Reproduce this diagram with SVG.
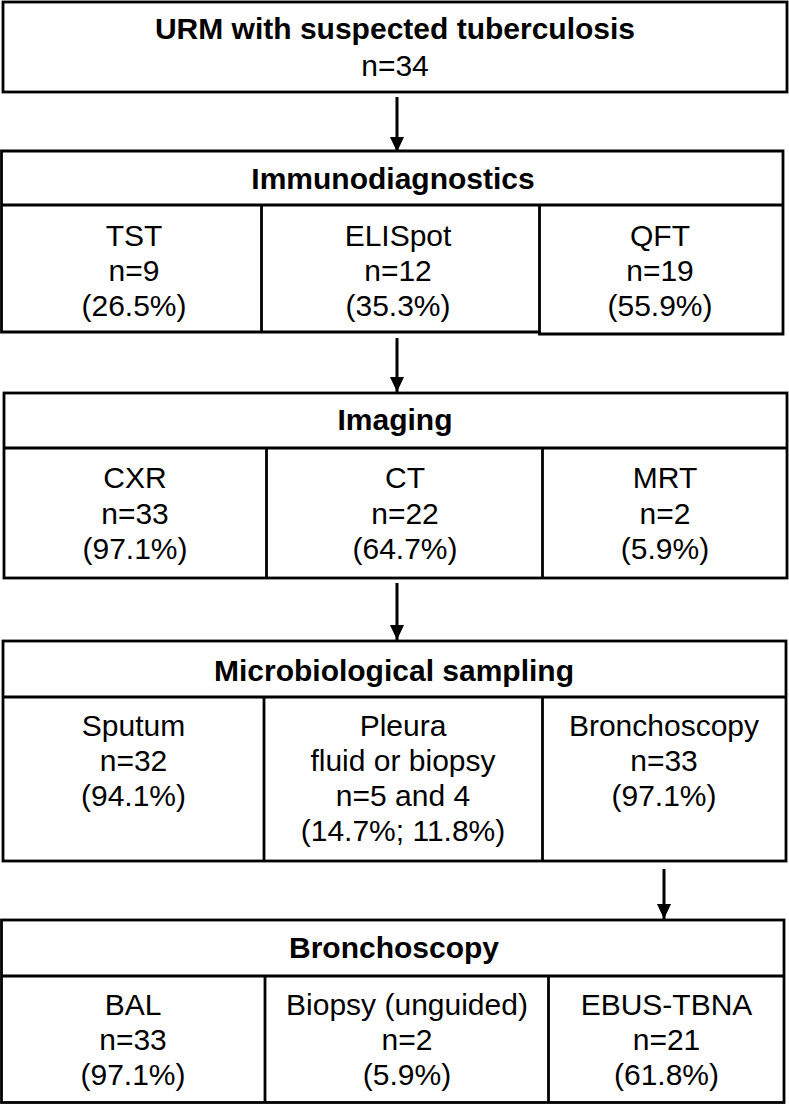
<svg xmlns="http://www.w3.org/2000/svg" width="789" height="1105" viewBox="0 0 789 1105">
<defs>
<marker id="ah" markerUnits="userSpaceOnUse" markerWidth="16" markerHeight="14" refX="15" refY="7" orient="auto">
<path d="M0,0 L15,7 L0,14 Z" fill="#000"/>
</marker>
</defs>
<style>
.box{fill:#fff;stroke:#000;stroke-width:2.8}
.ln{fill:none;stroke:#000;stroke-width:2.8}
.con{fill:none;stroke:#000;stroke-width:3;marker-end:url(#ah)}
text{font-family:"Liberation Sans",Arial,Helvetica,sans-serif;font-size:30px;fill:#000;text-anchor:middle}
.h{font-weight:bold}
</style>
<rect width="789" height="1105" fill="#fff"/>

<g id="connectors">
<line class="con" x1="397" y1="97" x2="397" y2="152"/>
<line class="con" x1="397" y1="338" x2="397" y2="392"/>
<line class="con" x1="397" y1="583" x2="397" y2="640"/>
<line class="con" x1="664" y1="869" x2="664" y2="919"/>
</g>

<g id="node-urm">
<rect class="box" x="3" y="2" width="784" height="90"/>
<text class="h" x="395" y="39">URM with suspected tuberculosis</text>
<text x="395" y="76">n=34</text>
</g>

<g id="node-immuno">
<path class="box" d="M539.5,332 H1.5 V151 H783 V334 H539.5 Z"/>
<line class="ln" x1="1.5" y1="205" x2="783" y2="205"/>
<line class="ln" x1="261.5" y1="205" x2="261.5" y2="332"/>
<line class="ln" x1="539.5" y1="205" x2="539.5" y2="334"/>
<text class="h" x="393" y="189">Immunodiagnostics</text>
<g id="cell-tst"><text x="134" y="246">TST</text><text x="134" y="281">n=9</text><text x="134" y="316">(26.5%)</text></g>
<g id="cell-elispot"><text x="398" y="246">ELISpot</text><text x="398" y="281">n=12</text><text x="398" y="316">(35.3%)</text></g>
<g id="cell-qft"><text x="660" y="246">QFT</text><text x="660" y="281">n=19</text><text x="660" y="316">(55.9%)</text></g>
</g>

<g id="node-imaging">
<rect class="box" x="4" y="393" width="783" height="185"/>
<line class="ln" x1="4" y1="448" x2="787" y2="448"/>
<line class="ln" x1="266.5" y1="448" x2="266.5" y2="578"/>
<line class="ln" x1="542.5" y1="448" x2="542.5" y2="578"/>
<text class="h" x="395" y="430">Imaging</text>
<g id="cell-cxr"><text x="135" y="488">CXR</text><text x="135" y="524">n=33</text><text x="135" y="559">(97.1%)</text></g>
<g id="cell-ct"><text x="405" y="488">CT</text><text x="405" y="524">n=22</text><text x="405" y="559">(64.7%)</text></g>
<g id="cell-mrt"><text x="665" y="488">MRT</text><text x="665" y="524">n=2</text><text x="665" y="559">(5.9%)</text></g>
</g>

<g id="node-micro">
<rect class="box" x="3" y="641" width="783" height="220"/>
<line class="ln" x1="3" y1="697" x2="786" y2="697"/>
<line class="ln" x1="264" y1="697" x2="264" y2="861"/>
<line class="ln" x1="542.5" y1="697" x2="542.5" y2="861"/>
<text class="h" x="394" y="681">Microbiological sampling</text>
<g id="cell-sputum"><text x="133.5" y="736">Sputum</text><text x="133.5" y="771">n=32</text><text x="133.5" y="806">(94.1%)</text></g>
<g id="cell-pleura"><text x="403" y="736">Pleura</text><text x="403" y="771">fluid or biopsy</text><text x="403" y="806">n=5 and 4</text><text x="403" y="841">(14.7%; 11.8%)</text></g>
<g id="cell-bronch"><text x="664" y="736">Bronchoscopy</text><text x="664" y="771">n=33</text><text x="664" y="806">(97.1%)</text></g>
</g>

<g id="node-bronchoscopy">
<rect class="box" x="1.5" y="920" width="782.5" height="182.5"/>
<line class="ln" x1="1.5" y1="976" x2="784" y2="976"/>
<line class="ln" x1="265" y1="976" x2="265" y2="1102.5"/>
<line class="ln" x1="548.5" y1="976" x2="548.5" y2="1102.5"/>
<text class="h" x="394" y="958">Bronchoscopy</text>
<g id="cell-bal"><text x="133" y="1015">BAL</text><text x="133" y="1050">n=33</text><text x="133" y="1085">(97.1%)</text></g>
<g id="cell-biopsy"><text x="407" y="1015">Biopsy (unguided)</text><text x="407" y="1050">n=2</text><text x="407" y="1085">(5.9%)</text></g>
<g id="cell-ebus"><text x="666.5" y="1015">EBUS-TBNA</text><text x="666.5" y="1050">n=21</text><text x="666.5" y="1085">(61.8%)</text></g>
</g>
</svg>
